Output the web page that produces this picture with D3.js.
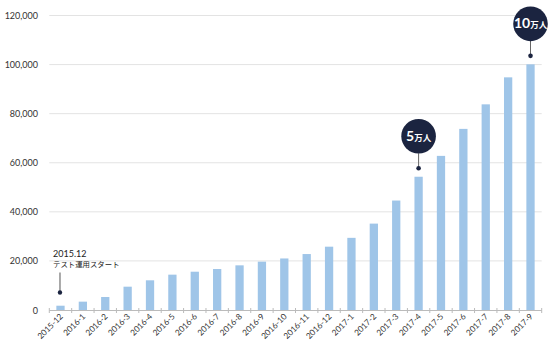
<!DOCTYPE html>
<html><head><meta charset="utf-8">
<script src="https://cdn.jsdelivr.net/npm/d3@7"></script>
<style>
body{margin:0;background:#fff;}
svg{display:block;font-family:Lato,"Noto Sans CJK JP",sans-serif;}
</style></head>
<body><svg id="c" width="550" height="350"></svg>
<script>
const categories = ["2015-12","2016-1","2016-2","2016-3","2016-4","2016-5","2016-6","2016-7","2016-8","2016-9","2016-10","2016-11","2016-12","2017-1","2017-2","2017-3","2017-4","2017-5","2017-6","2017-7","2017-8","2017-9"];
const users = [1750,3400,5300,9500,12100,14400,15600,16700,18200,19700,21000,22800,25800,29400,35200,44600,54300,62800,73800,83800,94800,100100];
const yTicks = [0,20000,40000,60000,80000,100000,120000];
const milestones = [
  {cat:"2017-4", big:"5", small:"万人"},
  {cat:"2017-9", big:"10", small:"万人"}
];
const startNote = {cat:"2015-12", lines:["2015.12","テスト運用スタート"]};

const svg = d3.select("#c");
const x = d3.scaleBand().domain(categories).range([49.3,541.7]).paddingInner(0.63).paddingOuter(0.315);
const y = d3.scaleLinear().domain([0,120000]).range([310,15.5]);

// gridlines
svg.append("g").selectAll("line").data(yTicks.slice(1)).join("line")
  .attr("x1",49.3).attr("x2",541.7)
  .attr("y1",d=>y(d)).attr("y2",d=>y(d))
  .attr("stroke","#e3e3e3").attr("stroke-width",1);

// y labels
svg.append("g").selectAll("text").data(yTicks).join("text")
  .attr("x",38).attr("y",d=>y(d)+3.5)
  .attr("text-anchor","end").attr("font-size",9).attr("fill","#333")
  .text(d=>d3.format(",")(d));

// bars
svg.append("g").selectAll("rect").data(users).join("rect")
  .attr("x",(d,i)=>x(categories[i])).attr("width",x.bandwidth())
  .attr("y",d=>y(d)).attr("height",d=>y(0)-y(d))
  .attr("fill","#9fc5e8");

// x axis
const step = x.step();
const x0 = x.range()[0];
const ax = svg.append("g");
ax.append("line").attr("x1",x0).attr("x2",541.7).attr("y1",310.5).attr("y2",310.5).attr("stroke","#bbb");
ax.selectAll("line.t").data(d3.range(categories.length+1)).join("line").attr("class","t")
  .attr("x1",i=>x0+i*step).attr("x2",i=>x0+i*step)
  .attr("y1",308).attr("y2",313).attr("stroke","#bbb");
ax.selectAll("text").data(categories).join("text")
  .attr("transform",d=>`translate(${x(d)+x.bandwidth()/2+3},${317}) rotate(-45)`)
  .attr("text-anchor","end").attr("font-size",8.3).attr("fill","#333")
  .text(d=>d);

// milestones
milestones.forEach(m=>{
  const i = categories.indexOf(m.cat);
  const cx = x(m.cat)+x.bandwidth()/2;
  const dotY = y(users[i])-8.5;
  const cy = dotY-32;
  const g = svg.append("g");
  g.append("line").attr("x1",cx).attr("x2",cx).attr("y1",cy+17).attr("y2",dotY).attr("stroke","#666").attr("stroke-width",1);
  g.append("circle").attr("cx",cx).attr("cy",dotY).attr("r",2.3).attr("fill","#1b2440");
  g.append("circle").attr("cx",cx).attr("cy",cy).attr("r",17.3).attr("fill","#1b2440");
  const t = g.append("text").attr("x",cx).attr("y",cy+4.5).attr("text-anchor","middle").attr("fill","#fff");
  t.append("tspan").attr("font-size",14).attr("font-weight","bold").text(m.big);
  t.append("tspan").attr("font-size",8.5).attr("font-weight","bold").text(m.small);
});

// start note
{
  const cx = x(startNote.cat)+x.bandwidth()/2 - 0.5;
  const dotY = 292.5;
  svg.append("line").attr("x1",cx).attr("x2",cx).attr("y1",272.5).attr("y2",dotY).attr("stroke","#555");
  svg.append("circle").attr("cx",cx).attr("cy",dotY).attr("r",2.2).attr("fill","#1b2440");
  svg.append("text").attr("x",53).attr("y",257).attr("font-size",9).attr("fill","#222").text(startNote.lines[0]);
  svg.append("text").attr("x",53).attr("y",267).attr("font-size",7.4).attr("fill","#222").text(startNote.lines[1]);
}
</script></body></html>
